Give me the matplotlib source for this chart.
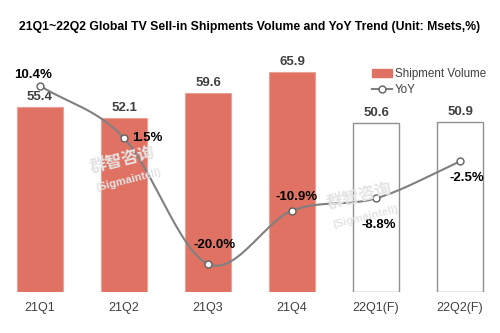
import numpy as np
import matplotlib.pyplot as plt
from matplotlib.patches import Patch
from matplotlib.lines import Line2D

plt.rcParams['font.family'] = ['Liberation Sans', 'Noto Sans CJK SC', 'DejaVu Sans']

# data
quarters = ['21Q1', '21Q2', '21Q3', '21Q4', '22Q1(F)', '22Q2(F)']
volume = [55.4, 52.1, 59.6, 65.9, 50.6, 50.9]
forecast = [False, False, False, False, True, True]
yoy = [10.4, 1.5, -20.0, -10.9, -8.8, -2.5]
yoy_labels = ['10.4%', '1.5%', '-20.0%', '-10.9%', '-8.8%', '-2.5%']

bar_red = '#E07263'
txt_gray = '#404040'
line_gray = '#808080'


# smooth line through points (Catmull-Rom, like Excel smoothed line)
def smooth(xs, ys, n=30):
    p = np.column_stack([xs, ys]).astype(float)
    p = np.vstack([p[0] - (p[1] - p[0]), p, p[-1] + (p[-1] - p[-2])])
    out = []
    for i in range(1, len(p) - 2):
        p0, p1, p2, p3 = p[i - 1], p[i], p[i + 1], p[i + 2]
        m1 = (p2 - p0) / 2
        m2 = (p3 - p1) / 2
        t = np.linspace(0, 1, n)[:, None]
        h00 = 2 * t**3 - 3 * t**2 + 1
        h10 = t**3 - 2 * t**2 + t
        h01 = -2 * t**3 + 3 * t**2
        h11 = t**3 - t**2
        out.append(h00 * p1 + h10 * m1 + h01 * p2 + h11 * m2)
    out = np.vstack(out)
    return out[:, 0], out[:, 1]


fig = plt.figure(figsize=(5, 3.33), dpi=100)
ax = fig.add_axes([0, 0.1231, 1, 0.7027])
x = np.arange(len(quarters))

for i in range(len(quarters)):
    if forecast[i]:
        ax.bar(x[i], volume[i], width=0.55, color='white', edgecolor='#909090', linewidth=1)
    else:
        ax.bar(x[i], volume[i], width=0.55, color=bar_red, edgecolor='#EBA197', linewidth=0.8)
    ax.text(x[i], volume[i] + 1.1, f'{volume[i]:.1f}', ha='center', va='bottom',
            fontsize=9.5, fontweight='bold', color=txt_gray)

ax.set_xlim(-0.476, 5.476)
ax.set_ylim(0, 70)
ax.set_yticks([])
ax.set_xticks(x)
ax.set_xticklabels(quarters, fontsize=9, color=txt_gray)
ax.tick_params(axis='x', length=0, pad=7)
for s in ax.spines.values():
    s.set_visible(False)

ax2 = ax.twinx()
ax2.set_ylim(-24.78, 15.15)
ax2.set_yticks([])
for s in ax2.spines.values():
    s.set_visible(False)

sx, sy = smooth(x, yoy)
ax2.plot(sx, sy, color=line_gray, linewidth=1.5, zorder=3)
ax2.plot(x, yoy, 'o', markersize=5, markerfacecolor='white', markeredgecolor='#606060',
         markeredgewidth=1, zorder=4)

# label offsets in points (dx, dy)
offsets = [(-5, 8), (17, 0), (5, 14), (3, 10), (2, -19), (5, -12)]
for i in range(len(quarters)):
    ax2.annotate(yoy_labels[i], (x[i], yoy[i]), xytext=offsets[i], textcoords='offset points',
                 ha='center', va='center', fontsize=9.5, fontweight='bold', color='black', zorder=5)

# watermarks
for wx, wy in [(0.245, 0.52), (0.72, 0.41)]:
    fig.text(wx, wy, '群智咨询', fontsize=12, color='#e4e4e4', rotation=14, ha='center',
             va='center', fontweight='bold', family=['Noto Sans CJK SC', 'DejaVu Sans'])
    fig.text(wx + 0.012, wy - 0.062, '(Sigmaintell)', fontsize=8, color='#e4e4e4', rotation=14,
             ha='center', va='center', fontweight='bold')

handles = [Patch(facecolor=bar_red, edgecolor=bar_red),
           Line2D([0], [0], color=line_gray, linewidth=1.5, marker='o', markersize=5,
                  markerfacecolor='white', markeredgecolor='#606060')]
fig.legend(handles, ['Shipment Volume', 'YoY'], loc='upper left', bbox_to_anchor=(0.732, 0.814),
           frameon=False, fontsize=8.4, labelcolor=txt_gray, handlelength=1.75, handleheight=0.7,
           handletextpad=0.2, borderpad=0, labelspacing=0.4)

fig.text(0.5, 0.918, '21Q1~22Q2 Global TV Sell-in Shipments Volume and YoY Trend (Unit: Msets,%)',
         ha='center', va='center', fontsize=8.8, fontweight='bold', color='black')

fig.savefig('out.png', dpi=100)
